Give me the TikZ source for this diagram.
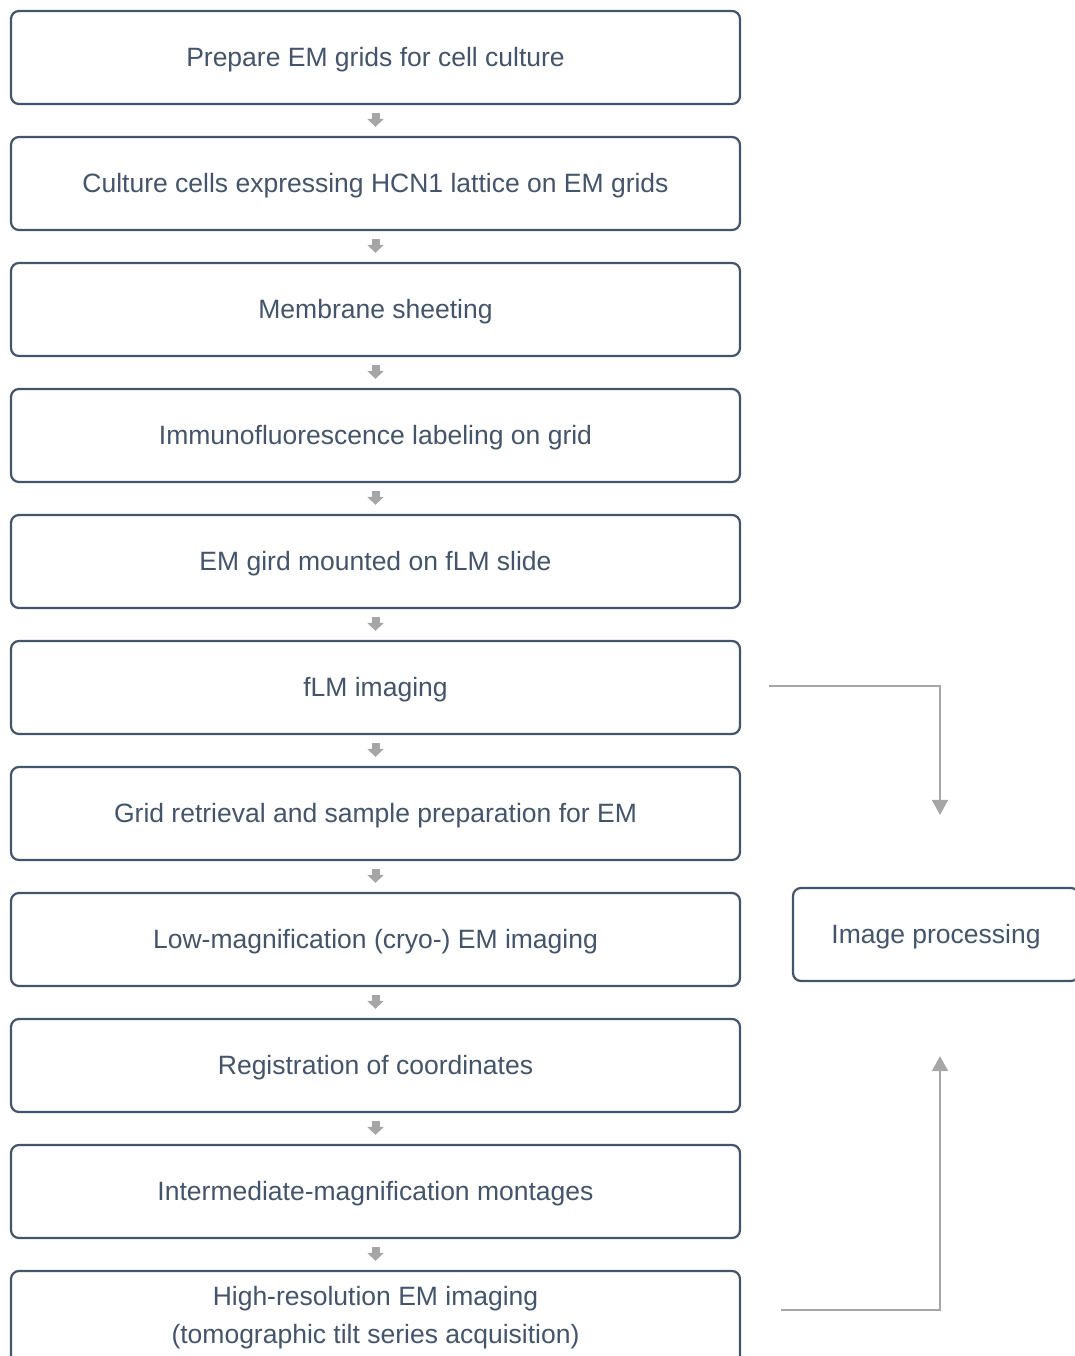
\documentclass[tikz,border=0pt]{standalone}
\usepackage{fontspec}
\setmainfont{Liberation Sans}
\usetikzlibrary{arrows.meta}
\definecolor{slate}{HTML}{44546A}
\definecolor{arrowgray}{HTML}{A6A6A6}

\begin{document}
\begin{tikzpicture}[
  x=1pt, y=-1pt,
  stage/.style={draw=slate, line width=2.2pt, fill=white, rounded corners=8pt,
                minimum width=729pt, minimum height=93pt, inner sep=0pt,
                text height=23pt, text depth=5.6pt,
                align=center, text=slate, font=\fontsize{26.5}{38}\selectfont},
  sidebox/.style={stage, minimum width=286pt},
  flow/.style={-{Triangle[width=16pt, length=8pt]}, line width=8pt, draw=arrowgray,
               shorten <=8pt, shorten >=9pt},
  link/.style={-{Triangle[width=16pt, length=15pt]}, line width=2pt, draw=arrowgray}
]
\useasboundingbox (0,0) rectangle (1074,1356);

% ---------- main workflow ----------
\node[stage] (b1)  at (375.5,57.5)   {Prepare EM grids for cell culture};
\node[stage] (b2)  at (375.5,183.5)  {Culture cells expressing HCN1 lattice on EM grids};
\node[stage] (b3)  at (375.5,309.5)  {Membrane sheeting};
\node[stage] (b4)  at (375.5,435.5)  {Immunofluorescence labeling on grid};
\node[stage] (b5)  at (375.5,561.5)  {EM gird mounted on fLM slide};
\node[stage] (b6)  at (375.5,687.5)  {fLM imaging};
\node[stage] (b7)  at (375.5,813.5)  {Grid retrieval and sample preparation for EM};
\node[stage] (b8)  at (375.5,939.5)  {Low-magnification (cryo-) EM imaging};
\node[stage] (b9)  at (375.5,1065.5) {Registration of coordinates};
\node[stage] (b10) at (375.5,1191.5) {Intermediate-magnification montages};
\node[stage, text height={}, text depth={}] (b11) at (375.5,1317.5)
  {High-resolution EM imaging\\(tomographic tilt series acquisition)};

% ---------- side branch ----------
\node[sidebox] (ip) at (936,934.5) {Image processing};

% ---------- flow arrows ----------
\draw[flow] (b1) -- (b2);
\draw[flow] (b2) -- (b3);
\draw[flow] (b3) -- (b4);
\draw[flow] (b4) -- (b5);
\draw[flow] (b5) -- (b6);
\draw[flow] (b6) -- (b7);
\draw[flow] (b7) -- (b8);
\draw[flow] (b8) -- (b9);
\draw[flow] (b9) -- (b10);
\draw[flow] (b10) -- (b11);

% ---------- links to image processing ----------
\draw[link] ([xshift=28pt, yshift=1.5pt]b6.east) -| ([xshift=4pt, yshift=72pt]ip.north);
\draw[link] ([xshift=40pt, yshift=7.5pt]b11.east) -| ([xshift=4pt, yshift=-74pt]ip.south);

\end{tikzpicture}
\end{document}
